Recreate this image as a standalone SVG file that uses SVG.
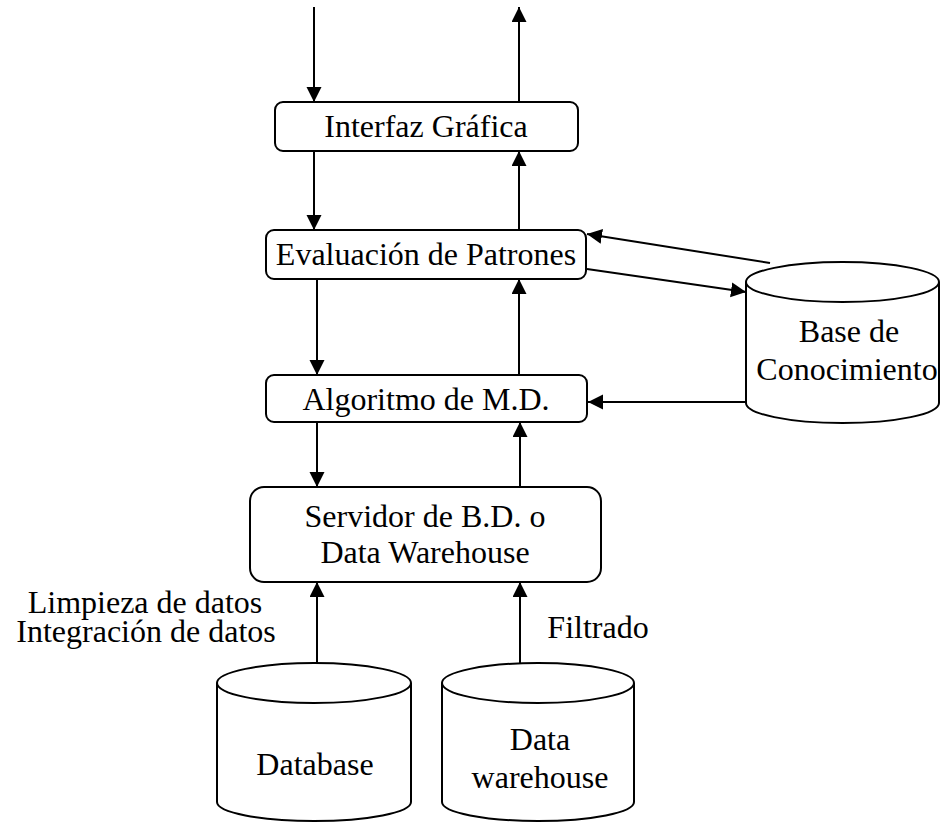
<svg xmlns="http://www.w3.org/2000/svg" width="942" height="822" viewBox="0 0 942 822">
<style>
.box{fill:#fff;stroke:#000;stroke-width:2}
.cyl{fill:#fff;stroke:#000;stroke-width:2}
.t{font-family:"Liberation Serif","Times New Roman",serif;font-size:32px;fill:#000;text-anchor:middle}
.e{stroke:#000;stroke-width:2;fill:none;marker-end:url(#ah)}
</style>
<defs>
<marker id="ah" markerUnits="userSpaceOnUse" markerWidth="16" markerHeight="16" refX="15" refY="7.5" orient="auto">
<path d="M0,0 L15,7.5 L0,15 Z" fill="#000"/>
</marker>
</defs>
<rect width="942" height="822" fill="#fff"/>
<g id="connectors">
<line class="e" x1="314" y1="7" x2="314" y2="102"/>
<line class="e" x1="519" y1="102" x2="519" y2="7"/>
<line class="e" x1="314" y1="151" x2="314" y2="230"/>
<line class="e" x1="519" y1="230" x2="519" y2="151"/>
<line class="e" x1="317" y1="279" x2="317" y2="375"/>
<line class="e" x1="519" y1="375" x2="519" y2="279"/>
<line class="e" x1="317" y1="422" x2="317" y2="487"/>
<line class="e" x1="520" y1="487" x2="520" y2="422"/>
<line class="e" x1="317" y1="663" x2="317" y2="582"/>
<line class="e" x1="520" y1="663" x2="520" y2="582"/>
<line class="e" x1="770" y1="263" x2="587" y2="234"/>
<line class="e" x1="587" y1="269" x2="746" y2="292"/>
<line class="e" x1="746" y1="402" x2="588" y2="402"/>
</g>
<g id="interfaz">
<rect class="box" x="275" y="102" width="303" height="49" rx="8"/>
<text class="t" x="426" y="137">Interfaz Gráfica</text>
</g>
<g id="evaluacion">
<rect class="box" x="266" y="230" width="320" height="49" rx="8"/>
<text class="t" x="426" y="265">Evaluación de Patrones</text>
</g>
<g id="algoritmo">
<rect class="box" x="266" y="375" width="321" height="47" rx="8"/>
<text class="t" x="426" y="410">Algoritmo de M.D.</text>
</g>
<g id="servidor">
<rect class="box" x="250" y="487" width="351" height="95" rx="14"/>
<text class="t" x="425" y="527">Servidor de B.D. o</text>
<text class="t" x="425" y="563">Data Warehouse</text>
</g>
<g id="base">
<path class="cyl" d="M746,282 L746,403 A96.5,20 0 0 0 939,403 L939,282"/>
<ellipse class="cyl" cx="842.5" cy="282" rx="96.5" ry="20"/>
<text class="t" x="849" y="342">Base de</text>
<text class="t" x="847" y="380">Conocimiento</text>
</g>
<g id="database">
<path class="cyl" d="M217,683 L217,802 A97,19 0 0 0 411,802 L411,683"/>
<ellipse class="cyl" cx="314" cy="683" rx="97" ry="20"/>
<text class="t" x="315" y="775">Database</text>
</g>
<g id="datawarehouse">
<path class="cyl" d="M442,683 L442,802 A96,19 0 0 0 634,802 L634,683"/>
<ellipse class="cyl" cx="538" cy="683" rx="96" ry="20"/>
<text class="t" x="540" y="750">Data</text>
<text class="t" x="540" y="788">warehouse</text>
</g>
<g id="labels">
<text class="t" x="145" y="613">Limpieza de datos</text>
<text class="t" x="146" y="642">Integración de datos</text>
<text class="t" x="598" y="638">Filtrado</text>
</g>
</svg>
